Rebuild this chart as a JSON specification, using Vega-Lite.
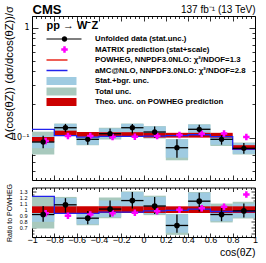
{
  "$schema": "https://vega.github.io/schema/vega-lite/v6.json",
  "background": "white",
  "padding": {"left": 3, "top": 2, "right": 8, "bottom": 2},
  "bounds": "flush",
  "spacing": 7.5,
  "resolve": {"scale": {"color": "independent"}},
  "config": {
    "font": "Liberation Sans",
    "view": {"stroke": "black", "strokeWidth": 1},
    "axis": {"grid": false, "domain": false, "tickColor": "black", "labelColor": "black", "titleColor": "black", "labelFont": "Liberation Sans", "titleFont": "Liberation Sans", "tickWidth": 0.8, "labelOverlap": false, "labelFlush": false, "labelBound": false}
  },
  "datasets": {
    "bins": [
      {"x": -0.9, "xlo": -1, "xhi": -0.8, "d": 0.091, "slo": 0.080, "shi": 0.104, "tlo": 0.070, "thi": 0.113, "pw": 0.0963, "plo": 0.0915, "phi": 0.1011, "mx": 0.0929, "r": 0.92, "rslo": 0.80, "rshi": 1.06, "rtlo": 0.69, "rthi": 1.22, "rm": 0.94, "rplo": 0.945, "rphi": 1.055},
      {"x": -0.7, "xlo": -0.8, "xhi": -0.6, "d": 0.1228, "slo": 0.112, "shi": 0.133, "tlo": 0.110, "thi": 0.134, "pw": 0.1099, "plo": 0.1044, "phi": 0.1154, "mx": 0.1032, "r": 1.08, "rslo": 0.95, "rshi": 1.19, "rtlo": 0.93, "rthi": 1.21, "rm": 0.90, "rplo": 0.945, "rphi": 1.055},
      {"x": -0.5, "xlo": -0.6, "xhi": -0.4, "d": 0.0963, "slo": 0.086, "shi": 0.105, "tlo": 0.085, "thi": 0.1055, "pw": 0.107, "plo": 0.1017, "phi": 0.1124, "mx": 0.1032, "r": 0.86, "rslo": 0.76, "rshi": 0.98, "rtlo": 0.745, "rthi": 0.99, "rm": 0.92, "rplo": 0.945, "rphi": 1.055},
      {"x": -0.3, "xlo": -0.4, "xhi": -0.2, "d": 0.1083, "slo": 0.098, "shi": 0.121, "tlo": 0.096, "thi": 0.123, "pw": 0.1065, "plo": 0.1012, "phi": 0.1118, "mx": 0.101, "r": 1.01, "rslo": 0.88, "rshi": 1.15, "rtlo": 0.86, "rthi": 1.20, "rm": 0.94, "rplo": 0.945, "rphi": 1.055},
      {"x": -0.1, "xlo": -0.2, "xhi": 0, "d": 0.1228, "slo": 0.109, "shi": 0.133, "tlo": 0.107, "thi": 0.134, "pw": 0.1065, "plo": 0.1012, "phi": 0.1118, "mx": 0.1017, "r": 1.15, "rslo": 1.02, "rshi": 1.29, "rtlo": 1.00, "rthi": 1.30, "rm": 0.95, "rplo": 0.945, "rphi": 1.055},
      {"x": 0.1, "xlo": 0, "xhi": 0.2, "d": 0.1122, "slo": 0.099, "shi": 0.126, "tlo": 0.098, "thi": 0.127, "pw": 0.105, "plo": 0.0998, "phi": 0.1103, "mx": 0.1032, "r": 1.06, "rslo": 0.93, "rshi": 1.21, "rtlo": 0.91, "rthi": 1.23, "rm": 0.975, "rplo": 0.945, "rphi": 1.055},
      {"x": 0.3, "xlo": 0.2, "xhi": 0.4, "d": 0.0807, "slo": 0.0655, "shi": 0.0963, "tlo": 0.062, "thi": 0.0965, "pw": 0.105, "plo": 0.0998, "phi": 0.1103, "mx": 0.1053, "r": 0.74, "rslo": 0.62, "rshi": 0.92, "rtlo": 0.585, "rthi": 0.93, "rm": 1.0, "rplo": 0.945, "rphi": 1.055},
      {"x": 0.5, "xlo": 0.4, "xhi": 0.6, "d": 0.1188, "slo": 0.109, "shi": 0.131, "tlo": 0.108, "thi": 0.132, "pw": 0.105, "plo": 0.0998, "phi": 0.1103, "mx": 0.1083, "r": 1.14, "rslo": 0.97, "rshi": 1.28, "rtlo": 0.95, "rthi": 1.29, "rm": 1.025, "rplo": 0.945, "rphi": 1.055},
      {"x": 0.7, "xlo": 0.6, "xhi": 0.8, "d": 0.0963, "slo": 0.086, "shi": 0.105, "tlo": 0.0837, "thi": 0.107, "pw": 0.105, "plo": 0.0998, "phi": 0.1103, "mx": 0.109, "r": 0.92, "rslo": 0.81, "rshi": 1.05, "rtlo": 0.79, "rthi": 1.10, "rm": 1.05, "rplo": 0.945, "rphi": 1.055},
      {"x": 0.9, "xlo": 0.8, "xhi": 1, "d": 0.0797, "slo": 0.071, "shi": 0.089, "tlo": 0.070, "thi": 0.090, "pw": 0.081, "plo": 0.077, "phi": 0.0851, "mx": 0.101, "r": 0.98, "rslo": 0.87, "rshi": 1.10, "rtlo": 0.855, "rthi": 1.13, "rm": 1.25, "rplo": 0.945, "rphi": 1.055}
    ],
    "amc": [
      {"x": -1, "amc": 0.1188, "ramc": 1.22},
      {"x": -0.8, "amc": 0.104, "ramc": 0.94},
      {"x": -0.6, "amc": 0.1006, "ramc": 0.94},
      {"x": -0.4, "amc": 0.1022, "ramc": 0.96},
      {"x": -0.2, "amc": 0.1022, "ramc": 0.96},
      {"x": 0, "amc": 0.1029, "ramc": 0.98},
      {"x": 0.2, "amc": 0.104, "ramc": 0.99},
      {"x": 0.4, "amc": 0.106, "ramc": 1.01},
      {"x": 0.6, "amc": 0.102, "ramc": 0.97},
      {"x": 0.8, "amc": 0.0786, "ramc": 0.97},
      {"x": 1, "amc": 0.0786, "ramc": 0.97}
    ]
  },
  "vconcat": [
    {
      "width": 223,
      "height": 164,
      "data": {"name": "bins"},
      "resolve": {"axis": {"x": "independent", "y": "independent"}},
      "layer": [
        {
          "mark": {"type": "rect"},
          "encoding": {
            "x": {"field": "xlo", "type": "quantitative", "scale": {"domain": [-1, 1], "nice": false, "zero": false},
              "axis": {"orient": "bottom", "labels": false, "title": null,
                "values": [-1,-0.96,-0.92,-0.88,-0.84,-0.8,-0.76,-0.72,-0.68,-0.64,-0.6,-0.56,-0.52,-0.48,-0.44,-0.4,-0.36,-0.32,-0.28,-0.24,-0.2,-0.16,-0.12,-0.08,-0.04,0,0.04,0.08,0.12,0.16,0.2,0.24,0.28,0.32,0.36,0.4,0.44,0.48,0.52,0.56,0.6,0.64,0.68,0.72,0.76,0.8,0.84,0.88,0.92,0.96,1],
                "tickSize": {"condition": {"test": "abs(datum.value*5-round(datum.value*5))<0.001", "value": -5}, "value": -2.5}}},
            "x2": {"field": "xhi"},
            "y": {"field": "tlo", "type": "quantitative", "scale": {"type": "log", "domain": [0.041, 1.28], "nice": false},
              "axis": {"orient": "left", "labelOverlap": false,
                "values": [0.1, 1],
                "labelExpr": "datum.value > 0.5 ? '1' : '10⁻¹'",
                "labelFont": "DejaVu Sans", "labelFontSize": 8, "labelPadding": 9,
                "tickSize": -6,
                "title": "Δ(cos(θZ)) (dσ/dcos(θZ))/σ", "titleFontSize": 11.2, "titleFontWeight": "normal",
                "titleAngle": 270, "titleAlign": "right", "titleBaseline": "alphabetic", "titleX": -19.5, "titleY": -10.5}},
            "y2": {"field": "thi"},
            "color": {"datum": "Total unc.", "type": "nominal",
              "scale": {"domain": ["Unfolded data (stat.unc.)", "MATRIX prediction (stat+scale)", "POWHEG, NNPDF3.0NLO: χ²/NDOF=1.3", "aMC@NLO, NNPDF3.0NLO: χ²/NDOF=2.8", "Stat.+bgr. unc.", "Total unc.", "Theo. unc. on POWHEG prediction"],
                "range": ["black", "#ff00ff", "#e8281e", "#2222ee", "#9fcbe1", "#a8c9bd", "#cc0000"]},
              "legend": {"title": "pp → W⁻Z", "orient": "none", "legendX": 14.5, "legendY": 4,
                "titleFontSize": 11, "titleFontWeight": "bold", "titleFont": "Liberation Sans", "titlePadding": 3, "titleColor": "black",
                "labelFontSize": 7.8, "labelFontWeight": "bold", "labelFont": "Liberation Sans", "labelColor": "black",
                "symbolSize": 100, "symbolOffset": 5.5, "labelOffset": 33, "rowPadding": 1.5, "padding": 0, "labelLimit": 300,
                "encode": {"symbols": {"update": {
                  "shape": {"signal": "['M-2.1,-0.12H4.9V0.12H-2.1Z M2.05,0A0.55,0.55 0 1,1 0.95,0A0.55,0.55 0 1,1 2.05,0Z', 'M1.25,-0.65H1.75V-0.25H2.15V0.25H1.75V0.65H1.25V0.25H0.85V-0.25H1.25Z', 'M-2.1,-0.15H2.1V0.15H-2.1Z', 'M-2.1,-0.15H2.1V0.15H-2.1Z', 'M-2.1,-0.8H3.9V0.8H-2.1Z', 'M-2.1,-0.8H3.9V0.8H-2.1Z', 'M-2.1,-0.8H3.9V0.8H-2.1Z'][datum.index]"},
                  "fill": {"signal": "['black', '#ff00ff', '#e8281e', '#2222ee', '#cce4f7', '#a8c9bd', '#cc0000'][datum.index]"},
                  "stroke": {"value": "transparent"}, "strokeWidth": {"value": 0}, "opacity": {"value": 1}, "size": {"value": 100}}}}}}
          }
        },
        {
          "mark": {"type": "rect"},
          "encoding": {
            "x": {"field": "xlo", "type": "quantitative", "axis": null},
            "x2": {"field": "xhi"},
            "y": {"field": "slo", "type": "quantitative", "axis": null},
            "y2": {"field": "shi"},
            "color": {"datum": "Stat.+bgr. unc.", "type": "nominal"}
          }
        },
        {
          "mark": {"type": "rect"},
          "encoding": {
            "x": {"field": "xlo", "type": "quantitative", "axis": null},
            "x2": {"field": "xhi"},
            "y": {"field": "plo", "type": "quantitative", "axis": null},
            "y2": {"field": "phi"},
            "color": {"datum": "Theo. unc. on POWHEG prediction", "type": "nominal"}
          }
        },
        {
          "data": {"name": "amc"},
          "mark": {"type": "line", "interpolate": "step-after", "strokeWidth": 1.3},
          "encoding": {
            "x": {"field": "x", "type": "quantitative", "axis": null},
            "y": {"field": "amc", "type": "quantitative",
              "axis": {"orient": "left", "labels": false, "title": null, "labelOverlap": false,
                "values": [0.05,0.06,0.07,0.08,0.09,0.2,0.3,0.4,0.5,0.6,0.7,0.8,0.9],
                "tickSize": -3}},
            "color": {"datum": "aMC@NLO, NNPDF3.0NLO: χ²/NDOF=2.8", "type": "nominal"}
          }
        },
        {
          "mark": {"type": "rule", "color": "black", "strokeWidth": 1.3},
          "encoding": {
            "x": {"field": "x", "type": "quantitative", "axis": null},
            "y": {"field": "slo", "type": "quantitative", "axis": null},
            "y2": {"field": "shi"}
          }
        },
        {
          "mark": {"type": "rule", "color": "black", "strokeWidth": 1.3},
          "encoding": {
            "x": {"field": "xlo", "type": "quantitative", "axis": null},
            "x2": {"field": "xhi"},
            "y": {"field": "d", "type": "quantitative", "axis": null}
          }
        },
        {
          "mark": {"type": "point", "filled": true, "opacity": 1, "strokeWidth": 0, "size": 100, "xOffset": 2.5,
            "shape": "M-0.25,-0.65H0.25V-0.25H0.65V0.25H0.25V0.65H-0.25V0.25H-0.65V-0.25H-0.25Z"},
          "encoding": {
            "x": {"field": "x", "type": "quantitative",
              "axis": {"orient": "top", "labels": false,
                "values": [-1,-0.96,-0.92,-0.88,-0.84,-0.8,-0.76,-0.72,-0.68,-0.64,-0.6,-0.56,-0.52,-0.48,-0.44,-0.4,-0.36,-0.32,-0.28,-0.24,-0.2,-0.16,-0.12,-0.08,-0.04,0,0.04,0.08,0.12,0.16,0.2,0.24,0.28,0.32,0.36,0.4,0.44,0.48,0.52,0.56,0.6,0.64,0.68,0.72,0.76,0.8,0.84,0.88,0.92,0.96,1],
                "tickSize": {"condition": {"test": "abs(datum.value*5-round(datum.value*5))<0.001", "value": -5}, "value": -2.5},
                "title": "CMS", "titleFontSize": 13, "titleFontWeight": "bold", "titleAngle": 0, "titleAlign": "left", "titleBaseline": "alphabetic", "titleX": 0, "titleY": -2.7}},
            "y": {"field": "mx", "type": "quantitative",
              "axis": {"orient": "right", "labels": false, "labelOverlap": false,
                "values": [0.05,0.06,0.07,0.08,0.09,0.1,0.2,0.3,0.4,0.5,0.6,0.7,0.8,0.9,1],
                "tickSize": {"condition": {"test": "datum.value > 0.95 || (datum.value > 0.095 && datum.value < 0.105)", "value": -6}, "value": -3},
                "title": "137 fb⁻¹ (13 TeV)", "titleFontSize": 10, "titleFontWeight": "normal", "titleAngle": 0, "titleAlign": "right", "titleBaseline": "alphabetic", "titleX": 0, "titleY": -3.3}},
            "color": {"datum": "MATRIX prediction (stat+scale)", "type": "nominal"}
          }
        },
        {
          "mark": {"type": "point", "filled": true, "opacity": 1, "strokeWidth": 0, "size": 28, "shape": "circle"},
          "encoding": {
            "x": {"field": "x", "type": "quantitative", "axis": null},
            "y": {"field": "d", "type": "quantitative", "axis": null},
            "color": {"datum": "Unfolded data (stat.unc.)", "type": "nominal"}
          }
        }
      ]
    },
    {
      "width": 223,
      "height": 49.5,
      "data": {"name": "bins"},
      "resolve": {"axis": {"x": "independent", "y": "independent"}},
      "layer": [
        {
          "mark": {"type": "rect", "color": "#a8c9bd"},
          "encoding": {
            "x": {"field": "xlo", "type": "quantitative", "scale": {"domain": [-1, 1], "nice": false, "zero": false},
              "axis": {"orient": "bottom",
                "values": [-1,-0.96,-0.92,-0.88,-0.84,-0.8,-0.76,-0.72,-0.68,-0.64,-0.6,-0.56,-0.52,-0.48,-0.44,-0.4,-0.36,-0.32,-0.28,-0.24,-0.2,-0.16,-0.12,-0.08,-0.04,0,0.04,0.08,0.12,0.16,0.2,0.24,0.28,0.32,0.36,0.4,0.44,0.48,0.52,0.56,0.6,0.64,0.68,0.72,0.76,0.8,0.84,0.88,0.92,0.96,1],
                "labelExpr": "abs(datum.value*5-round(datum.value*5))<0.001 ? format(datum.value, '~g') : ''",
                "labelFontSize": 9, "labelPadding": 2,
                "tickSize": {"condition": {"test": "abs(datum.value*5-round(datum.value*5))<0.001", "value": -4}, "value": -2},
                "title": "cos(θZ)", "titleAnchor": "end", "titleFontSize": 10.5, "titleFontWeight": "normal", "titlePadding": 1}},
            "x2": {"field": "xhi"},
            "y": {"field": "rtlo", "type": "quantitative", "scale": {"domain": [0.55, 1.365], "nice": false, "zero": false},
              "axis": {"orient": "left",
                "values": [0.7,0.8,0.9,1,1.1,1.2,1.3],
                "labelExpr": "format(datum.value, '~g')",
                "labelFontSize": 5.5, "labelPadding": 9,
                "tickSize": -4,
                "title": "Ratio to POWHEG", "titleFontSize": 7, "titleFontWeight": "normal",
                "titleAngle": 270, "titleAlign": "right", "titleBaseline": "alphabetic", "titleX": -21, "titleY": -4}},
            "y2": {"field": "rthi"}
          }
        },
        {
          "mark": {"type": "rect", "color": "#9fcbe1"},
          "encoding": {
            "x": {"field": "xlo", "type": "quantitative", "axis": null},
            "x2": {"field": "xhi"},
            "y": {"field": "rslo", "type": "quantitative", "axis": null},
            "y2": {"field": "rshi"}
          }
        },
        {
          "mark": {"type": "rect", "color": "#cc0000"},
          "encoding": {
            "x": {"field": "xlo", "type": "quantitative", "axis": null},
            "x2": {"field": "xhi"},
            "y": {"field": "rplo", "type": "quantitative", "axis": null},
            "y2": {"field": "rphi"}
          }
        },
        {
          "data": {"name": "amc"},
          "mark": {"type": "line", "interpolate": "step-after", "strokeWidth": 1.3, "color": "#2222ee"},
          "encoding": {
            "x": {"field": "x", "type": "quantitative", "axis": null},
            "y": {"field": "ramc", "type": "quantitative",
              "axis": {"orient": "left", "labels": false, "title": null,
                "values": [0.6,0.65,0.75,0.85,0.95,1.05,1.15,1.25,1.35],
                "tickSize": -2}}
          }
        },
        {
          "mark": {"type": "rule", "color": "black", "strokeWidth": 1.3},
          "encoding": {
            "x": {"field": "x", "type": "quantitative", "axis": null},
            "y": {"field": "rslo", "type": "quantitative", "axis": null},
            "y2": {"field": "rshi"}
          }
        },
        {
          "mark": {"type": "rule", "color": "black", "strokeWidth": 1.3},
          "encoding": {
            "x": {"field": "xlo", "type": "quantitative", "axis": null},
            "x2": {"field": "xhi"},
            "y": {"field": "r", "type": "quantitative", "axis": null}
          }
        },
        {
          "mark": {"type": "point", "filled": true, "opacity": 1, "strokeWidth": 0, "size": 100, "xOffset": 2.5, "color": "#ff00ff",
            "shape": "M-0.25,-0.65H0.25V-0.25H0.65V0.25H0.25V0.65H-0.25V0.25H-0.65V-0.25H-0.25Z"},
          "encoding": {
            "x": {"field": "x", "type": "quantitative",
              "axis": {"orient": "top", "labels": false, "title": null,
                "values": [-1,-0.96,-0.92,-0.88,-0.84,-0.8,-0.76,-0.72,-0.68,-0.64,-0.6,-0.56,-0.52,-0.48,-0.44,-0.4,-0.36,-0.32,-0.28,-0.24,-0.2,-0.16,-0.12,-0.08,-0.04,0,0.04,0.08,0.12,0.16,0.2,0.24,0.28,0.32,0.36,0.4,0.44,0.48,0.52,0.56,0.6,0.64,0.68,0.72,0.76,0.8,0.84,0.88,0.92,0.96,1],
                "tickSize": {"condition": {"test": "abs(datum.value*5-round(datum.value*5))<0.001", "value": -4}, "value": -2}}},
            "y": {"field": "rm", "type": "quantitative",
              "axis": {"orient": "right", "labels": false, "title": null,
                "values": [0.6,0.65,0.7,0.75,0.8,0.85,0.9,0.95,1,1.05,1.1,1.15,1.2,1.25,1.3,1.35],
                "tickSize": {"condition": {"test": "abs(datum.value*10-round(datum.value*10))<0.001", "value": -4}, "value": -2}}}
          }
        },
        {
          "mark": {"type": "point", "filled": true, "opacity": 1, "strokeWidth": 0, "size": 32, "shape": "circle", "color": "black"},
          "encoding": {
            "x": {"field": "x", "type": "quantitative", "axis": null},
            "y": {"field": "r", "type": "quantitative", "axis": null}
          }
        }
      ]
    }
  ]
}
